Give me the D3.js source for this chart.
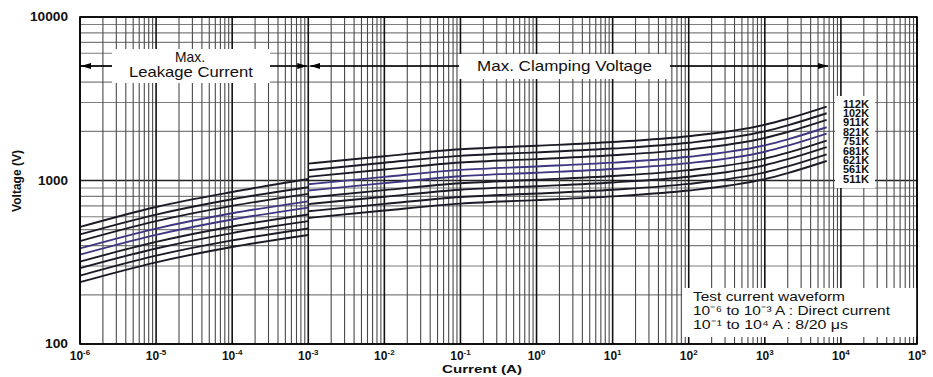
<!DOCTYPE html>
<html><head><meta charset="utf-8">
<script src="https://cdn.jsdelivr.net/npm/d3@7"></script>
<style>body{margin:0;background:#fff}svg{display:block}text{font-family:"Liberation Sans",Arial,sans-serif}</style>
</head><body><svg id="c" width="933" height="377"></svg>
<script>
// ---- data ----
const seriesNames = ["112K","102K","911K","821K","751K","681K","621K","561K","511K"];
const leakCurrent = [1e-6, 1e-5, 1e-4, 1e-3];
const leak112K = [520, 689, 851, 1021];
const leak102K = [468, 619, 768, 909];
const leak911K = [426, 564, 699, 828];
const leak821K = [384, 508, 630, 746];
const leak751K = [352, 465, 577, 683];
const leak681K = [319, 421, 523, 619];
const leak621K = [291, 384, 477, 564];
const leak561K = [262, 347, 430, 509];
const leak511K = [239, 316, 392, 464];
const clampCurrent = [1e-3, 1e-2, 1e-1, 1, 10, 100, 1000, 2000, 6500];
const clamp112K = [1268, 1408, 1552, 1630, 1720, 1866, 2193, 2387, 2830];
const clamp102K = [1156, 1284, 1415, 1486, 1568, 1701, 1999, 2176, 2579];
const clamp911K = [1053, 1168, 1288, 1352, 1427, 1549, 1820, 1980, 2348];
const clamp821K = [949, 1053, 1161, 1219, 1286, 1396, 1640, 1785, 2116];
const clamp751K = [868, 963, 1062, 1115, 1177, 1277, 1500, 1633, 1936];
const clamp681K = [786, 873, 962, 1010, 1066, 1157, 1360, 1480, 1754];
const clamp621K = [717, 796, 878, 922, 973, 1055, 1240, 1350, 1600];
const clamp561K = [648, 719, 793, 832, 878, 953, 1120, 1219, 1445];
const clamp511K = [590, 655, 722, 758, 800, 868, 1020, 1110, 1316];
const xTickExps = [-6,-5,-4,-3,-2,-1,0,1,2,3,4,5];
const yTickLabels = ["100","1000","10000"];
const legendLines = ["Test current waveform", "10\u207B\u2076  to 10\u207B\u00B3 A : Direct current", "10\u207B\u00B9  to 10\u2074  A : 8/20 \u03BCs"];

const leakSeries = [leak112K,leak102K,leak911K,leak821K,leak751K,leak681K,leak621K,leak561K,leak511K];
const clampSeries = [clamp112K,clamp102K,clamp911K,clamp821K,clamp751K,clamp681K,clamp621K,clamp561K,clamp511K];

// ---- layout ----
const L=80, R=917, T=17, B=344;
const svg = d3.select("#c");
const x = d3.scaleLog().domain([1e-6,1e5]).range([L,R]);
const y = d3.scaleLog().domain([100,10000]).range([B,T]);

// grid
const gx = x.ticks(30), gy = y.ticks(10);
const isPow = v => Math.abs(Math.log10(v) - Math.round(Math.log10(v))) < 1e-9;
svg.append("g").selectAll("line").data(gy).join("line")
  .attr("x1",L).attr("x2",R).attr("y1",d=>y(d)).attr("y2",d=>y(d))
  .attr("stroke", d=>isPow(d)?"#222":"#7e7e7e").attr("stroke-width", d=>isPow(d)?1.4:1.2);
svg.append("g").selectAll("line").data(gx).join("line")
  .attr("x1",d=>x(d)).attr("x2",d=>x(d)).attr("y1",T).attr("y2",B)
  .attr("stroke", d=>isPow(d)?"#111":"#4a4a4a").attr("stroke-width", d=>isPow(d)?1.6:1.1);

// white boxes
const boxes = [[112,49,158,34],[459,54,211,25],[835,96,40,92],[682,288,R-682,49]];
svg.append("g").selectAll("rect").data(boxes).join("rect")
  .attr("x",d=>d[0]).attr("y",d=>d[1]).attr("width",d=>d[2]).attr("height",d=>d[3]).attr("fill","#fff");

// arrows
const defs = svg.append("defs");
defs.append("marker").attr("id","ah").attr("viewBox","0 0 10 6").attr("refX",10).attr("refY",3)
  .attr("markerWidth",10).attr("markerHeight",6).attr("markerUnits","userSpaceOnUse").attr("orient","auto")
  .append("path").attr("d","M0,0L10,3L0,6Z").attr("fill","#000");
const ay = 66;
const arrows = [[112,x(1e-6)+1],[270,x(1e-3)-1],[459,x(1e-3)+2],[670,828]];
svg.append("g").selectAll("line").data(arrows).join("line")
  .attr("x1",d=>d[0]).attr("x2",d=>d[1]).attr("y1",ay).attr("y2",ay)
  .attr("stroke","#000").attr("stroke-width",1.6).attr("marker-end","url(#ah)");

// curves
const colors = ["#1b1b26","#1b1b26","#1b1b26","#3e3680","#3e3680","#1b1b26","#1b1b26","#1b1b26","#1b1b26"];
const line = d3.line().x(d=>x(d[0])).y(d=>y(d[1])).curve(d3.curveMonotoneX);
const cg = svg.append("g").attr("fill","none").attr("stroke-width",1.9);
seriesNames.forEach((n,i)=>{
  cg.append("path").attr("d", line(leakCurrent.map((c,j)=>[c,leakSeries[i][j]]))).attr("stroke",colors[i]);
  cg.append("path").attr("d", line(clampCurrent.map((c,j)=>[c,clampSeries[i][j]]))).attr("stroke",colors[i]);
});

// frame
svg.append("rect").attr("x",L).attr("y",T).attr("width",R-L).attr("height",B-T)
  .attr("fill","none").attr("stroke","#000").attr("stroke-width",1.6);

// series labels
svg.append("g").selectAll("text").data(seriesNames).join("text")
  .attr("x",856).attr("y",(d,i)=>104+i*9.4).attr("dy","0.35em").attr("text-anchor","middle")
  .attr("font-size",10).attr("font-weight","bold").attr("fill","#111")
  .attr("textLength",26).attr("lengthAdjust","spacingAndGlyphs").text(d=>d);

// y tick labels
const yw = {"100":23,"1000":30,"10000":38};
svg.append("g").selectAll("text").data(yTickLabels).join("text")
  .attr("x",d=>68-yw[d]).attr("y",d=>y(+d)).attr("dy","0.35em")
  .attr("font-size",12).attr("font-weight","bold").attr("fill","#111")
  .attr("textLength",d=>yw[d]).attr("lengthAdjust","spacingAndGlyphs").text(d=>d);

// x tick labels
const xt = svg.append("g").selectAll("text").data(xTickExps).join("text")
  .attr("x",d=>x(Math.pow(10,d))).attr("y",360).attr("text-anchor","middle")
  .attr("font-size",12).attr("font-weight","bold").attr("fill","#111");
xt.append("tspan").text("10");
xt.append("tspan").attr("dy",-5).attr("font-size",8).text(d=>d);

// axis titles
svg.append("text").attr("x",442).attr("y",373)
  .attr("font-size",11.5).attr("font-weight","bold").attr("fill","#111")
  .attr("textLength",80).attr("lengthAdjust","spacingAndGlyphs").text("Current (A)");
svg.append("text").attr("transform","translate(21,181) rotate(-90)").attr("text-anchor","middle")
  .attr("font-size",12).attr("font-weight","bold").attr("fill","#111").text("Voltage (V)");

// box texts (reference glyphs are horizontally stretched)
const bt = [["Max.",175,62,30],["Leakage Current",129,77,124],["Max. Clamping Voltage",477,71,175]];
svg.append("g").selectAll("text").data(bt).join("text")
  .attr("x",d=>d[1]).attr("y",d=>d[2]).attr("font-size",14.5).attr("fill","#111")
  .attr("textLength",d=>d[3]).attr("lengthAdjust","spacingAndGlyphs").text(d=>d[0]);

// legend
const lw = [152,197,155];
svg.append("g").selectAll("text").data(legendLines).join("text")
  .attr("x",693).attr("y",(d,i)=>301+i*14).attr("font-size",13.5).attr("fill","#111")
  .attr("textLength",(d,i)=>lw[i]).attr("lengthAdjust","spacingAndGlyphs").text(d=>d);
</script></body></html>
